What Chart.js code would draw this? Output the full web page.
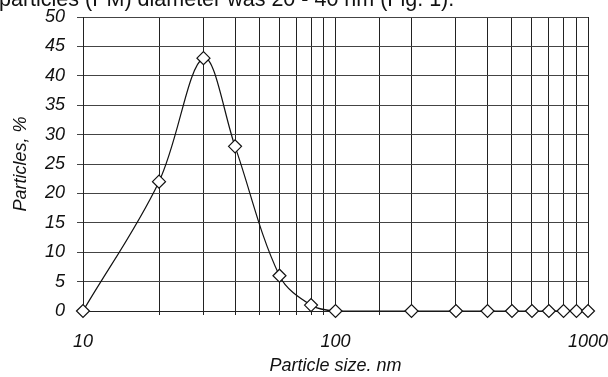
<!DOCTYPE html>
<html>
<head>
<meta charset="utf-8">
<script src="https://cdn.jsdelivr.net/npm/chart.js@4"></script>
<style>
html,body{margin:0;padding:0;background:#fff;overflow:hidden;}
#wrap{position:relative;width:608px;height:377px;}
#cap{position:absolute;left:-1px;top:-11px;font-family:"Liberation Sans",Arial,sans-serif;font-size:21.5px;line-height:21.5px;color:#111;white-space:nowrap;}
canvas{position:absolute;left:0;top:0;}
</style>
</head>
<body>
<div id="wrap">
<canvas id="c" width="608" height="377"></canvas>
<div id="cap">particles (PM) diameter was 20 - 40 nm (Fig. 1).</div>
</div>
<script>
const sizes = [10, 20, 30, 40, 60, 80, 100, 200, 300, 400, 500, 600, 700, 800, 900, 1000];
const particles = [0, 22, 43, 28, 6, 1, 0, 0, 0, 0, 0, 0, 0, 0, 0, 0];
const yTicks = [0, 5, 10, 15, 20, 25, 30, 35, 40, 45, 50];
const xLabels = [10, 100, 1000];
const xTitle = 'Particle size. nm';
const yTitle = 'Particles, %';

const tickFont = {family: '"Liberation Sans", Arial, sans-serif', size: 18, style: 'italic'};

new Chart(document.getElementById('c'), {
  type: 'line',
  data: {
    datasets: [{
      data: sizes.map((s, i) => ({x: s, y: particles[i]})),
      borderColor: '#111',
      borderWidth: 1.2,
      tension: 0.35,
      clip: false,
      pointStyle: 'rectRot',
      pointRadius: 6.5,
      pointBackgroundColor: '#fff',
      pointBorderColor: '#111',
      pointBorderWidth: 1.2
    }]
  },
  options: {
    responsive: false,
    animation: false,
    devicePixelRatio: 1,
    layout: {padding: {left: 0, right: 20, top: 17, bottom: 0}},
    plugins: {legend: {display: false}, tooltip: {enabled: false}},
    scales: {
      x: {
        type: 'logarithmic',
        min: 10, max: 1000,
        afterFit: s => { s.height = 66; s.paddingLeft = 0; s.paddingRight = 0; },
        grid: {color: '#222', lineWidth: 1, tickLength: 4, drawTicks: true},
        border: {color: '#222', width: 1},
        ticks: {
          autoSkip: false, maxRotation: 0, padding: 16, color: '#111', font: tickFont,
          callback: v => xLabels.includes(v) ? String(v) : ''
        },
        title: {display: true, text: xTitle, color: '#111', font: tickFont, padding: {top: 0, bottom: 0}}
      },
      y: {
        min: 0, max: 50,
        afterBuildTicks: s => { s.ticks = yTicks.map(v => ({value: v})); },
        afterFit: s => { s.width = 83; s.paddingTop = 0; s.paddingBottom = 0; },
        grid: {color: '#444', lineWidth: 1, tickLength: 6},
        border: {color: '#222', width: 1},
        ticks: {padding: 12, color: '#111', font: tickFont},
        title: {display: true, text: yTitle, color: '#111', font: tickFont, padding: {top: 10, bottom: 0}}
      }
    }
  }
});
</script>
</body>
</html>
